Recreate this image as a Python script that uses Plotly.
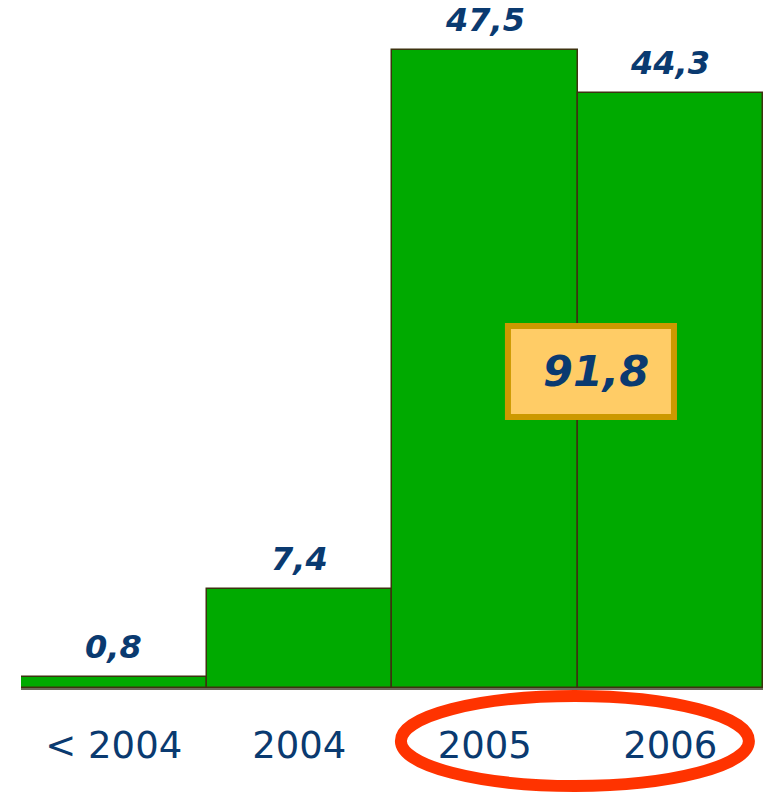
import plotly.graph_objects as go

categories = ["< 2004", "2004", "2005", "2006"]
values = [0.8, 7.4, 47.5, 44.3]
value_labels = ["0,8", "7,4", "47,5", "44,3"]
total_label = "91,8"

BLUE = "#0a3a70"
idx = list(range(len(categories)))

fig = go.Figure()
fig.add_trace(go.Bar(
    x=idx, y=values,
    marker=dict(color="#00aa00", line=dict(color="#3d3310", width=1.5)),
    hoverinfo="skip",
))

for i, (v, t) in enumerate(zip(values, value_labels)):
    fig.add_annotation(
        x=i, y=v, text=t, showarrow=False, yanchor="bottom", yshift=9,
        font=dict(family="DejaVu Sans", size=32, color=BLUE, weight="bold", style="italic"),
    )

# highlight box with total
fig.add_shape(type="rect", xref="x", yref="y", x0=2.125, x1=3.02, y0=20.18, y1=26.95,
              fillcolor="#ffcc66", line=dict(color="#cc9900", width=6), layer="above")
fig.add_annotation(
    x=2.6, y=23.6, text=total_label, showarrow=False,
    font=dict(family="DejaVu Sans", size=43, color=BLUE, weight="bold", style="italic"),
)

# red ellipse around 2005/2006
fig.add_shape(type="circle", xref="x", yref="paper", x0=1.548, x1=3.424, y0=-0.1424, y1=-0.0116,
              line=dict(color="#ff3300", width=12), layer="above")

fig.update_layout(
    width=765, height=793,
    margin=dict(l=21, r=2, t=0, b=105),
    plot_bgcolor="white", paper_bgcolor="white",
    bargap=0, showlegend=False,
)
fig.update_xaxes(
    range=[-0.5, 3.5], tickmode="array", tickvals=idx, ticktext=categories,
    showline=True, linecolor="#6b6b5b", linewidth=2, showgrid=False, zeroline=False,
    ticks="outside", ticklen=24, tickcolor="rgba(0,0,0,0)",
    tickfont=dict(family="DejaVu Sans", size=37, color=BLUE),
)
fig.update_yaxes(range=[0, 51.23], visible=False, showgrid=False, zeroline=False)

fig.write_html(
    "out.html",
    config={"displayModeBar": False},
    post_script="document.body.style.margin='0';document.body.style.overflow='hidden';",
)
